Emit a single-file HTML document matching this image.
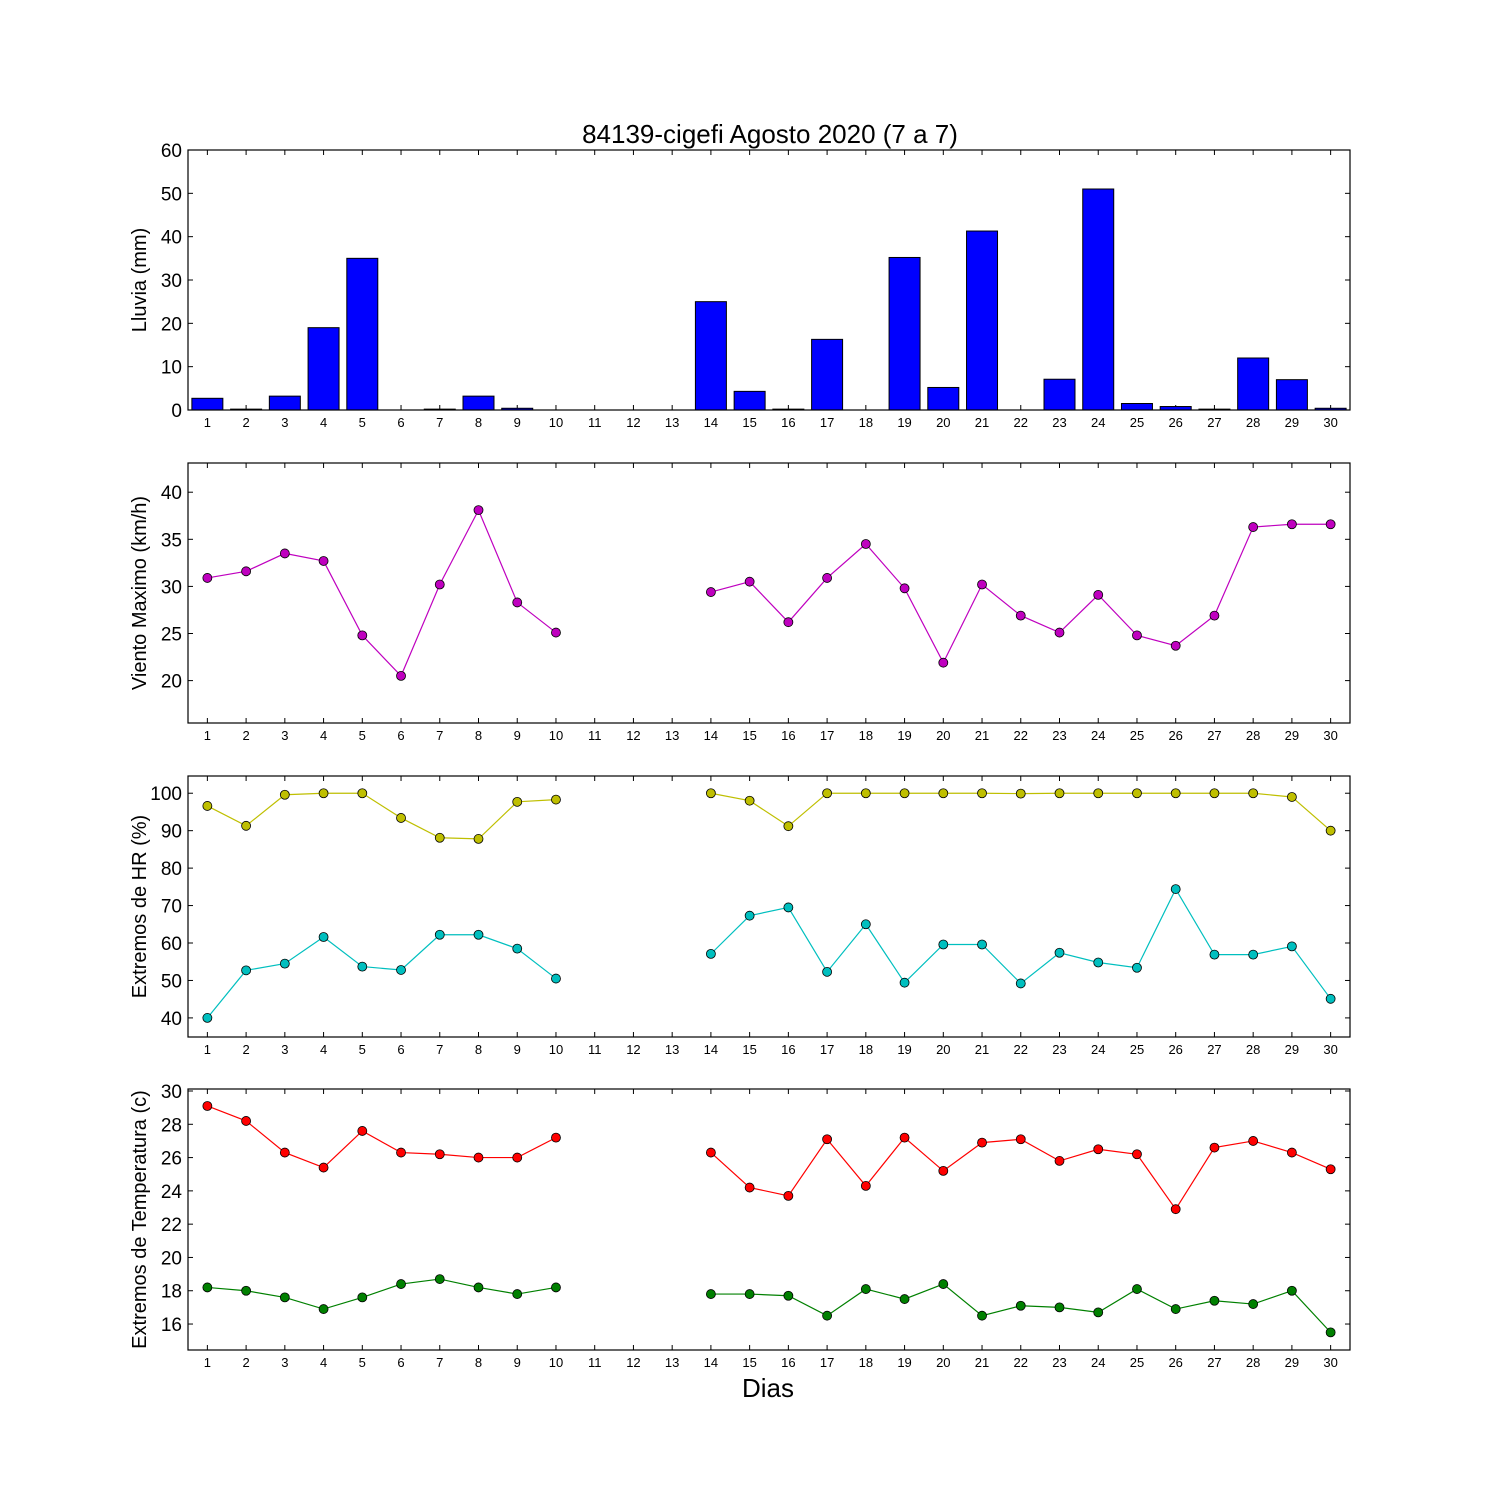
<!DOCTYPE html>
<html><head><meta charset="utf-8"><style>
html,body{margin:0;padding:0;background:#fff;}
svg{display:block;font-family:"Liberation Sans","DejaVu Sans",sans-serif;}
</style></head><body>
<svg id="chart" width="1500" height="1500" viewBox="0 0 1500 1500" xmlns="http://www.w3.org/2000/svg">
<rect width="1500" height="1500" fill="#fff"/>
<text x="770" y="143" font-size="26" text-anchor="middle">84139-cigefi Agosto 2020  (7 a 7)</text>
<text x="768" y="1397" font-size="26" text-anchor="middle">Dias</text>
</svg>
<script>
const days = [1,2,3,4,5,6,7,8,9,10,11,12,13,14,15,16,17,18,19,20,21,22,23,24,25,26,27,28,29,30];
const rain = [2.7,0.2,3.2,19,35,0,0.2,3.2,0.4,0,0,0,0,25,4.3,0.2,16.3,0,35.2,5.2,41.3,0,7.1,51,1.5,0.8,0.2,12,7,0.4];
const wind = [30.9,31.6,33.5,32.7,24.8,20.5,30.2,38.1,28.3,25.1,null,null,null,29.4,30.5,26.2,30.9,34.5,29.8,21.9,30.2,26.9,25.1,29.1,24.8,23.7,26.9,36.3,36.6,36.6];
const hrMax = [96.6,91.3,99.6,100,100,93.4,88.1,87.8,97.7,98.3,null,null,null,100,98,91.2,100,100,100,100,100,99.9,100,100,100,100,100,100,99,90];
const hrMin = [40,52.7,54.5,61.6,53.7,52.8,62.2,62.2,58.5,50.5,null,null,null,57.1,67.3,69.5,52.3,65,49.4,59.6,59.6,49.2,57.4,54.8,53.4,74.4,56.9,56.9,59.1,45.1];
const tMax = [29.1,28.2,26.3,25.4,27.6,26.3,26.2,26.0,26.0,27.2,null,null,null,26.3,24.2,23.7,27.1,24.3,27.2,25.2,26.9,27.1,25.8,26.5,26.2,22.9,26.6,27.0,26.3,25.3];
const tMin = [18.2,18.0,17.6,16.9,17.6,18.4,18.7,18.2,17.8,18.2,null,null,null,17.8,17.8,17.7,16.5,18.1,17.5,18.4,16.5,17.1,17.0,16.7,18.1,16.9,17.4,17.2,18.0,15.5];
const rainTicks = [0,10,20,30,40,50,60];
const windTicks = [20,25,30,35,40];
const hrTicks = [40,50,60,70,80,90,100];
const tTicks = [16,18,20,22,24,26,28,30];

const NS="http://www.w3.org/2000/svg";
const svg=document.getElementById('chart');
const X0=188,X1=1350;
function xs(d){return X0+(d-0.5)/30*(X1-X0);}
function mk(tag,attrs,parent){const e=document.createElementNS(NS,tag);for(const k in attrs)e.setAttribute(k,attrs[k]);(parent||svg).appendChild(e);return e;}

function panel(name,top,bot,ymin,ymax,ticks,ylabel){
  const g=mk('g',{});
  
  
  const ys=v=>bot-(v-ymin)/(ymax-ymin)*(bot-top);
  ticks.forEach(t=>{
    const y=ys(t);
    const l=mk('line',{x1:X0,x2:X0+5,y1:y,y2:y,stroke:'#000'},g);
    
    
    mk('line',{x1:X1,x2:X1-5,y1:y,y2:y,stroke:'#000'},g);
    const tx=mk('text',{x:X0-6,y:y+7,'font-size':19,'text-anchor':'end'},g);
    tx.textContent=t;
    
    
  });
  days.forEach(d=>{
    const x=xs(d);
    mk('line',{x1:x,x2:x,y1:bot,y2:bot-5,stroke:'#000'},g);
    mk('line',{x1:x,x2:x,y1:top,y2:top+5,stroke:'#000'},g);
    const tx=mk('text',{x:x,y:bot+17,'font-size':13,'text-anchor':'middle'},g);
    tx.textContent=d;
    
    
  });
  const cy=(top+bot)/2;
  const yl=mk('text',{x:0,y:0,'font-size':20,'text-anchor':'middle',transform:`translate(146,${cy}) rotate(-90)`},g);
  yl.textContent=ylabel;
  
  
  return {g,ys,top,bot};
}
function frame(p,name){
  const r=mk('rect',{x:X0,y:p.top,width:X1-X0,height:p.bot-p.top,fill:'none',stroke:'#000','stroke-width':1.2},p.g);
  
  
}
function series(p,vals,color,name){
  let segs=[],cur=[];
  vals.forEach((v,i)=>{if(v===null){if(cur.length)segs.push(cur);cur=[];}else cur.push([xs(days[i]),p.ys(v)]);});
  if(cur.length)segs.push(cur);
  segs.forEach(s=>{
    const pl=mk('polyline',{points:s.map(q=>q.join(',')).join(' '),fill:'none',stroke:color,'stroke-width':1.2},p.g);
    
    
  });
  vals.forEach((v,i)=>{
    if(v===null)return;
    const c=mk('circle',{cx:xs(days[i]),cy:p.ys(v),r:4.5,fill:color,stroke:'#000','stroke-width':0.8},p.g);
    
    
  });
}

const p1=panel('rain',150,410,0,60,rainTicks,'Lluvia (mm)');
const bw=0.8*(X1-X0)/30;
rain.forEach((v,i)=>{
  const y=p1.ys(v);
  const b=mk('rect',{x:xs(days[i])-bw/2,y:y,width:bw,height:p1.bot-y,fill:'#0000ff',stroke:'#000','stroke-width':1},p1.g);
  
  
});
frame(p1,'rain');

const p2=panel('wind',463,723,15.5,43.1,windTicks,'Viento Maximo (km/h)');
series(p2,wind,'#bf00bf','wind-max');
frame(p2,'wind');

const p3=panel('humidity',776,1037,34.9,104.6,hrTicks,'Extremos de HR (%)');
series(p3,hrMax,'#bfbf00','hr-max');
series(p3,hrMin,'#00bfbf','hr-min');
frame(p3,'humidity');

const p4=panel('temperature',1089,1350,14.44,30.12,tTicks,'Extremos de Temperatura (c)');
series(p4,tMax,'#ff0000','temp-max');
series(p4,tMin,'#008000','temp-min');
frame(p4,'temperature');
</script>
</body></html>
